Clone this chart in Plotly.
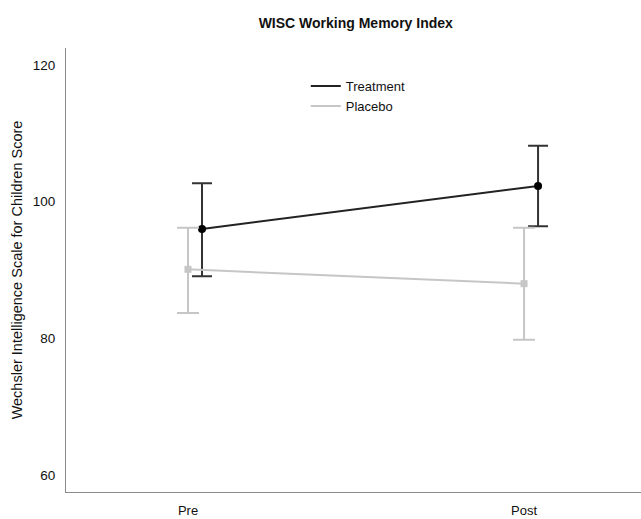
import plotly.graph_objects as go

categories = ["Pre", "Post"]
treatment_mean = [96.0, 102.3]
treatment_upper = [102.7, 108.2]
treatment_lower = [89.1, 96.4]
placebo_mean = [90.1, 88.0]
placebo_upper = [96.2, 96.2]
placebo_lower = [83.7, 79.8]
y_ticks = [60, 80, 100, 120]

idx = list(range(len(categories)))
off = 0.0417
TR_COL = "#222222"
PL_COL = "#c6c6c6"

def eb(mean, up, lo):
    return dict(type="data", symmetric=False,
                array=[u - m for u, m in zip(up, mean)],
                arrayminus=[m - l for m, l in zip(mean, lo)])

fig = go.Figure()
fig.add_trace(go.Scatter(
    x=[i + off for i in idx], y=treatment_mean, name="Treatment",
    mode="lines+markers", showlegend=False,
    line=dict(color=TR_COL, width=2),
    marker=dict(color="#000000", size=8, symbol="circle"),
    error_y={**eb(treatment_mean, treatment_upper, treatment_lower),
             "color": "#333333", "thickness": 2, "width": 10},
))
fig.add_trace(go.Scatter(
    x=idx, y=placebo_mean, name="Placebo",
    mode="lines+markers", showlegend=False,
    line=dict(color=PL_COL, width=2),
    marker=dict(color=PL_COL, size=7, symbol="square"),
    error_y={**eb(placebo_mean, placebo_upper, placebo_lower),
             "color": PL_COL, "thickness": 2, "width": 11},
))
# legend entries (lines only, as in the reference)
fig.add_trace(go.Scatter(x=[None], y=[None], name="Treatment", mode="lines",
                         line=dict(color=TR_COL, width=2)))
fig.add_trace(go.Scatter(x=[None], y=[None], name="Placebo", mode="lines",
                         line=dict(color=PL_COL, width=2)))

fig.update_layout(
    width=641, height=519,
    margin=dict(l=66, r=0, t=48, b=27),
    paper_bgcolor="white", plot_bgcolor="white",
    font=dict(family="Liberation Sans, Arial, sans-serif", size=14, color="#222222"),
    title=dict(text="<b>WISC Working Memory Index</b>", x=0.555, xanchor="center",
               y=0.956, yanchor="middle", font=dict(size=14, color="#111111")),
    showlegend=True,
    legend=dict(x=0.417, y=0.948, xanchor="left", yanchor="top",
                bgcolor="rgba(0,0,0,0)", font=dict(size=13, color="#111111"),
                itemwidth=30, tracegroupgap=0),
    xaxis=dict(range=[-0.363, 1.348], tickvals=idx, ticktext=categories,
               showgrid=False, zeroline=False, showline=True, automargin=False,
               linecolor="#8a8a8a", linewidth=1, ticks="",
               ticklabelstandoff=6,
               tickfont=dict(size=13, color="#111111")),
    yaxis=dict(range=[57.5, 122.5], tickvals=y_ticks,
               showgrid=False, zeroline=False, showline=True, automargin=False,
               linecolor="#8a8a8a", linewidth=1, ticks="",
               ticklabelstandoff=7,
               title=dict(text="Wechsler Intelligence Scale for Children Score",
                          font=dict(size=14.5, color="#111111"), standoff=6),
               tickfont=dict(size=13.5, color="#111111")),
)
fig.write_html("out.html", config={"displayModeBar": False},
               post_script="document.body.style.margin='0';document.body.style.overflow='hidden';")
